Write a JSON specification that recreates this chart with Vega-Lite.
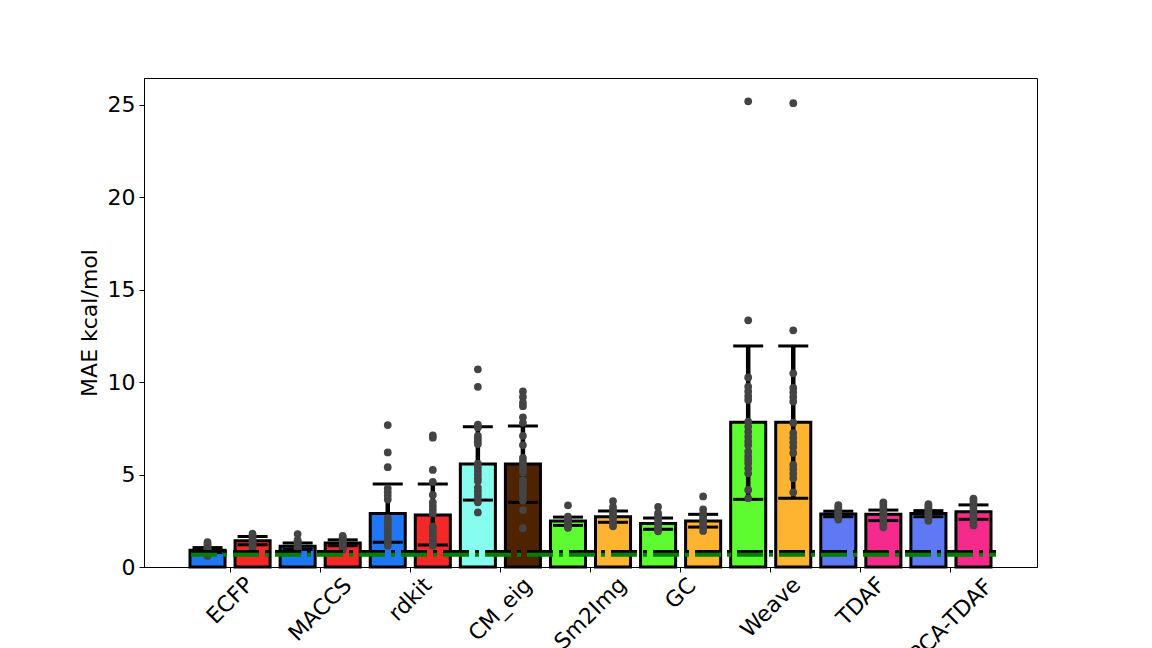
{
  "$schema": "https://vega.github.io/schema/vega-lite/v6.json",
  "width": 893,
  "height": 489,
  "autosize": {"type": "none"},
  "padding": {"left": 144, "top": 78, "right": 115, "bottom": 81},
  "background": "white",
  "config": {
    "font": "DejaVu Sans",
    "view": {"stroke": "black", "strokeWidth": 1},
    "axis": {"domainColor": "black", "tickColor": "black", "labelColor": "black", "titleColor": "black", "grid": false, "labelFont": "DejaVu Sans", "titleFont": "DejaVu Sans"}
  },
  "datasets": {
    "bars": [
      {"model": "ECFP", "variant": "A", "kind": "fp-A", "mae": 0.9, "lo": 0.78, "hi": 1.05},
      {"model": "ECFP", "variant": "B", "kind": "fp-B", "mae": 1.42, "lo": 1.2, "hi": 1.65},
      {"model": "MACCS", "variant": "A", "kind": "fp-A", "mae": 1.12, "lo": 0.95, "hi": 1.3},
      {"model": "MACCS", "variant": "B", "kind": "fp-B", "mae": 1.3, "lo": 1.15, "hi": 1.47},
      {"model": "rdkit", "variant": "A", "kind": "fp-A", "mae": 2.9, "lo": 1.34, "hi": 4.49},
      {"model": "rdkit", "variant": "B", "kind": "fp-B", "mae": 2.81, "lo": 1.19, "hi": 4.49},
      {"model": "CM_eig", "variant": "A", "kind": "cm-A", "mae": 5.57, "lo": 3.62, "hi": 7.59},
      {"model": "CM_eig", "variant": "B", "kind": "cm-B", "mae": 5.57, "lo": 3.5, "hi": 7.63},
      {"model": "Sm2Img", "variant": "A", "kind": "dl-A", "mae": 2.49, "lo": 2.25, "hi": 2.7},
      {"model": "Sm2Img", "variant": "B", "kind": "dl-B", "mae": 2.72, "lo": 2.42, "hi": 3.03},
      {"model": "GC", "variant": "A", "kind": "dl-A", "mae": 2.36, "lo": 2.04, "hi": 2.65},
      {"model": "GC", "variant": "B", "kind": "dl-B", "mae": 2.49, "lo": 2.16, "hi": 2.85},
      {"model": "Weave", "variant": "A", "kind": "dl-A", "mae": 7.83, "lo": 3.66, "hi": 11.96},
      {"model": "Weave", "variant": "B", "kind": "dl-B", "mae": 7.83, "lo": 3.72, "hi": 11.96},
      {"model": "TDAF", "variant": "A", "kind": "tda-A", "mae": 2.87, "lo": 2.72, "hi": 3.02},
      {"model": "TDAF", "variant": "B", "kind": "tda-B", "mae": 2.85, "lo": 2.51, "hi": 3.08},
      {"model": "PCA-TDAF", "variant": "A", "kind": "tda-A", "mae": 2.9, "lo": 2.72, "hi": 3.05},
      {"model": "PCA-TDAF", "variant": "B", "kind": "tda-B", "mae": 2.99, "lo": 2.58, "hi": 3.36}
    ],
    "runs": [
      {"model": "ECFP", "variant": "A", "mae": 1.35}, {"model": "ECFP", "variant": "A", "mae": 1.25}, {"model": "ECFP", "variant": "A", "mae": 1.15}, {"model": "ECFP", "variant": "A", "mae": 1.05}, {"model": "ECFP", "variant": "A", "mae": 1.0}, {"model": "ECFP", "variant": "A", "mae": 0.95}, {"model": "ECFP", "variant": "A", "mae": 0.9}, {"model": "ECFP", "variant": "A", "mae": 0.85}, {"model": "ECFP", "variant": "A", "mae": 0.8}, {"model": "ECFP", "variant": "A", "mae": 0.75}, {"model": "ECFP", "variant": "A", "mae": 0.7}, {"model": "ECFP", "variant": "A", "mae": 0.65}, {"model": "ECFP", "variant": "A", "mae": 0.6},
      {"model": "ECFP", "variant": "B", "mae": 1.8}, {"model": "ECFP", "variant": "B", "mae": 1.72}, {"model": "ECFP", "variant": "B", "mae": 1.65}, {"model": "ECFP", "variant": "B", "mae": 1.58}, {"model": "ECFP", "variant": "B", "mae": 1.5}, {"model": "ECFP", "variant": "B", "mae": 1.44}, {"model": "ECFP", "variant": "B", "mae": 1.38}, {"model": "ECFP", "variant": "B", "mae": 1.32}, {"model": "ECFP", "variant": "B", "mae": 1.25}, {"model": "ECFP", "variant": "B", "mae": 1.18}, {"model": "ECFP", "variant": "B", "mae": 1.1}, {"model": "ECFP", "variant": "B", "mae": 1.05},
      {"model": "MACCS", "variant": "A", "mae": 1.78}, {"model": "MACCS", "variant": "A", "mae": 1.45}, {"model": "MACCS", "variant": "A", "mae": 1.38}, {"model": "MACCS", "variant": "A", "mae": 1.3}, {"model": "MACCS", "variant": "A", "mae": 1.22}, {"model": "MACCS", "variant": "A", "mae": 1.15}, {"model": "MACCS", "variant": "A", "mae": 1.08}, {"model": "MACCS", "variant": "A", "mae": 1.0}, {"model": "MACCS", "variant": "A", "mae": 0.93}, {"model": "MACCS", "variant": "A", "mae": 0.86}, {"model": "MACCS", "variant": "A", "mae": 0.8},
      {"model": "MACCS", "variant": "B", "mae": 1.68}, {"model": "MACCS", "variant": "B", "mae": 1.6}, {"model": "MACCS", "variant": "B", "mae": 1.52}, {"model": "MACCS", "variant": "B", "mae": 1.45}, {"model": "MACCS", "variant": "B", "mae": 1.38}, {"model": "MACCS", "variant": "B", "mae": 1.3}, {"model": "MACCS", "variant": "B", "mae": 1.22}, {"model": "MACCS", "variant": "B", "mae": 1.15}, {"model": "MACCS", "variant": "B", "mae": 1.08}, {"model": "MACCS", "variant": "B", "mae": 1.0}, {"model": "MACCS", "variant": "B", "mae": 0.92},
      {"model": "rdkit", "variant": "A", "mae": 7.68}, {"model": "rdkit", "variant": "A", "mae": 6.2}, {"model": "rdkit", "variant": "A", "mae": 5.4}, {"model": "rdkit", "variant": "A", "mae": 4.25}, {"model": "rdkit", "variant": "A", "mae": 4.05}, {"model": "rdkit", "variant": "A", "mae": 3.85}, {"model": "rdkit", "variant": "A", "mae": 3.65}, {"model": "rdkit", "variant": "A", "mae": 2.65}, {"model": "rdkit", "variant": "A", "mae": 2.5}, {"model": "rdkit", "variant": "A", "mae": 2.35}, {"model": "rdkit", "variant": "A", "mae": 2.2}, {"model": "rdkit", "variant": "A", "mae": 2.05}, {"model": "rdkit", "variant": "A", "mae": 1.9}, {"model": "rdkit", "variant": "A", "mae": 1.75}, {"model": "rdkit", "variant": "A", "mae": 1.6}, {"model": "rdkit", "variant": "A", "mae": 1.45}, {"model": "rdkit", "variant": "A", "mae": 1.3}, {"model": "rdkit", "variant": "A", "mae": 1.15},
      {"model": "rdkit", "variant": "B", "mae": 7.12}, {"model": "rdkit", "variant": "B", "mae": 7.0}, {"model": "rdkit", "variant": "B", "mae": 5.25}, {"model": "rdkit", "variant": "B", "mae": 4.6}, {"model": "rdkit", "variant": "B", "mae": 3.9}, {"model": "rdkit", "variant": "B", "mae": 3.5}, {"model": "rdkit", "variant": "B", "mae": 3.3}, {"model": "rdkit", "variant": "B", "mae": 3.1}, {"model": "rdkit", "variant": "B", "mae": 2.9}, {"model": "rdkit", "variant": "B", "mae": 2.2}, {"model": "rdkit", "variant": "B", "mae": 2.05}, {"model": "rdkit", "variant": "B", "mae": 1.9}, {"model": "rdkit", "variant": "B", "mae": 1.75}, {"model": "rdkit", "variant": "B", "mae": 1.6}, {"model": "rdkit", "variant": "B", "mae": 1.45}, {"model": "rdkit", "variant": "B", "mae": 1.3}, {"model": "rdkit", "variant": "B", "mae": 1.15},
      {"model": "CM_eig", "variant": "A", "mae": 10.7}, {"model": "CM_eig", "variant": "A", "mae": 9.75}, {"model": "CM_eig", "variant": "A", "mae": 7.7}, {"model": "CM_eig", "variant": "A", "mae": 7.55}, {"model": "CM_eig", "variant": "A", "mae": 7.1}, {"model": "CM_eig", "variant": "A", "mae": 6.95}, {"model": "CM_eig", "variant": "A", "mae": 6.8}, {"model": "CM_eig", "variant": "A", "mae": 6.65}, {"model": "CM_eig", "variant": "A", "mae": 5.6}, {"model": "CM_eig", "variant": "A", "mae": 5.4}, {"model": "CM_eig", "variant": "A", "mae": 5.2}, {"model": "CM_eig", "variant": "A", "mae": 5.0}, {"model": "CM_eig", "variant": "A", "mae": 4.8}, {"model": "CM_eig", "variant": "A", "mae": 4.65}, {"model": "CM_eig", "variant": "A", "mae": 4.3}, {"model": "CM_eig", "variant": "A", "mae": 4.1}, {"model": "CM_eig", "variant": "A", "mae": 3.9}, {"model": "CM_eig", "variant": "A", "mae": 3.7}, {"model": "CM_eig", "variant": "A", "mae": 3.5}, {"model": "CM_eig", "variant": "A", "mae": 2.95},
      {"model": "CM_eig", "variant": "B", "mae": 9.5}, {"model": "CM_eig", "variant": "B", "mae": 9.2}, {"model": "CM_eig", "variant": "B", "mae": 8.9}, {"model": "CM_eig", "variant": "B", "mae": 8.7}, {"model": "CM_eig", "variant": "B", "mae": 8.1}, {"model": "CM_eig", "variant": "B", "mae": 7.8}, {"model": "CM_eig", "variant": "B", "mae": 7.1}, {"model": "CM_eig", "variant": "B", "mae": 6.6}, {"model": "CM_eig", "variant": "B", "mae": 5.9}, {"model": "CM_eig", "variant": "B", "mae": 5.7}, {"model": "CM_eig", "variant": "B", "mae": 5.5}, {"model": "CM_eig", "variant": "B", "mae": 5.3}, {"model": "CM_eig", "variant": "B", "mae": 5.1}, {"model": "CM_eig", "variant": "B", "mae": 4.7}, {"model": "CM_eig", "variant": "B", "mae": 4.5}, {"model": "CM_eig", "variant": "B", "mae": 4.3}, {"model": "CM_eig", "variant": "B", "mae": 4.1}, {"model": "CM_eig", "variant": "B", "mae": 3.9}, {"model": "CM_eig", "variant": "B", "mae": 3.6}, {"model": "CM_eig", "variant": "B", "mae": 3.08}, {"model": "CM_eig", "variant": "B", "mae": 2.1},
      {"model": "Sm2Img", "variant": "A", "mae": 3.34}, {"model": "Sm2Img", "variant": "A", "mae": 2.72}, {"model": "Sm2Img", "variant": "A", "mae": 2.62}, {"model": "Sm2Img", "variant": "A", "mae": 2.52}, {"model": "Sm2Img", "variant": "A", "mae": 2.42}, {"model": "Sm2Img", "variant": "A", "mae": 2.32}, {"model": "Sm2Img", "variant": "A", "mae": 2.22}, {"model": "Sm2Img", "variant": "A", "mae": 2.12},
      {"model": "Sm2Img", "variant": "B", "mae": 3.57}, {"model": "Sm2Img", "variant": "B", "mae": 3.26}, {"model": "Sm2Img", "variant": "B", "mae": 3.1}, {"model": "Sm2Img", "variant": "B", "mae": 2.95}, {"model": "Sm2Img", "variant": "B", "mae": 2.8}, {"model": "Sm2Img", "variant": "B", "mae": 2.65}, {"model": "Sm2Img", "variant": "B", "mae": 2.5}, {"model": "Sm2Img", "variant": "B", "mae": 2.35}, {"model": "Sm2Img", "variant": "B", "mae": 2.2},
      {"model": "GC", "variant": "A", "mae": 3.26}, {"model": "GC", "variant": "A", "mae": 2.92}, {"model": "GC", "variant": "A", "mae": 2.8}, {"model": "GC", "variant": "A", "mae": 2.65}, {"model": "GC", "variant": "A", "mae": 2.5}, {"model": "GC", "variant": "A", "mae": 2.35}, {"model": "GC", "variant": "A", "mae": 2.2}, {"model": "GC", "variant": "A", "mae": 2.05}, {"model": "GC", "variant": "A", "mae": 1.93},
      {"model": "GC", "variant": "B", "mae": 3.82}, {"model": "GC", "variant": "B", "mae": 3.12}, {"model": "GC", "variant": "B", "mae": 2.9}, {"model": "GC", "variant": "B", "mae": 2.75}, {"model": "GC", "variant": "B", "mae": 2.6}, {"model": "GC", "variant": "B", "mae": 2.45}, {"model": "GC", "variant": "B", "mae": 2.3}, {"model": "GC", "variant": "B", "mae": 2.15}, {"model": "GC", "variant": "B", "mae": 1.95},
      {"model": "Weave", "variant": "A", "mae": 25.2}, {"model": "Weave", "variant": "A", "mae": 13.35}, {"model": "Weave", "variant": "A", "mae": 10.26}, {"model": "Weave", "variant": "A", "mae": 9.76}, {"model": "Weave", "variant": "A", "mae": 9.5}, {"model": "Weave", "variant": "A", "mae": 9.25}, {"model": "Weave", "variant": "A", "mae": 9.04}, {"model": "Weave", "variant": "A", "mae": 7.86}, {"model": "Weave", "variant": "A", "mae": 7.6}, {"model": "Weave", "variant": "A", "mae": 7.32}, {"model": "Weave", "variant": "A", "mae": 7.05}, {"model": "Weave", "variant": "A", "mae": 6.8}, {"model": "Weave", "variant": "A", "mae": 6.6}, {"model": "Weave", "variant": "A", "mae": 6.24}, {"model": "Weave", "variant": "A", "mae": 6.0}, {"model": "Weave", "variant": "A", "mae": 5.8}, {"model": "Weave", "variant": "A", "mae": 5.61}, {"model": "Weave", "variant": "A", "mae": 5.34}, {"model": "Weave", "variant": "A", "mae": 5.07}, {"model": "Weave", "variant": "A", "mae": 4.17}, {"model": "Weave", "variant": "A", "mae": 3.72},
      {"model": "Weave", "variant": "B", "mae": 25.1}, {"model": "Weave", "variant": "B", "mae": 12.81}, {"model": "Weave", "variant": "B", "mae": 10.48}, {"model": "Weave", "variant": "B", "mae": 9.69}, {"model": "Weave", "variant": "B", "mae": 9.45}, {"model": "Weave", "variant": "B", "mae": 9.2}, {"model": "Weave", "variant": "B", "mae": 8.95}, {"model": "Weave", "variant": "B", "mae": 7.81}, {"model": "Weave", "variant": "B", "mae": 7.25}, {"model": "Weave", "variant": "B", "mae": 7.0}, {"model": "Weave", "variant": "B", "mae": 6.75}, {"model": "Weave", "variant": "B", "mae": 6.5}, {"model": "Weave", "variant": "B", "mae": 6.17}, {"model": "Weave", "variant": "B", "mae": 5.52}, {"model": "Weave", "variant": "B", "mae": 5.3}, {"model": "Weave", "variant": "B", "mae": 5.05}, {"model": "Weave", "variant": "B", "mae": 4.8}, {"model": "Weave", "variant": "B", "mae": 4.04},
      {"model": "TDAF", "variant": "A", "mae": 3.35}, {"model": "TDAF", "variant": "A", "mae": 3.25}, {"model": "TDAF", "variant": "A", "mae": 3.15}, {"model": "TDAF", "variant": "A", "mae": 3.05}, {"model": "TDAF", "variant": "A", "mae": 2.95}, {"model": "TDAF", "variant": "A", "mae": 2.85}, {"model": "TDAF", "variant": "A", "mae": 2.75}, {"model": "TDAF", "variant": "A", "mae": 2.65}, {"model": "TDAF", "variant": "A", "mae": 2.57},
      {"model": "TDAF", "variant": "B", "mae": 3.5}, {"model": "TDAF", "variant": "B", "mae": 3.35}, {"model": "TDAF", "variant": "B", "mae": 3.2}, {"model": "TDAF", "variant": "B", "mae": 3.05}, {"model": "TDAF", "variant": "B", "mae": 2.9}, {"model": "TDAF", "variant": "B", "mae": 2.75}, {"model": "TDAF", "variant": "B", "mae": 2.6}, {"model": "TDAF", "variant": "B", "mae": 2.45}, {"model": "TDAF", "variant": "B", "mae": 2.3}, {"model": "TDAF", "variant": "B", "mae": 2.15},
      {"model": "PCA-TDAF", "variant": "A", "mae": 3.4}, {"model": "PCA-TDAF", "variant": "A", "mae": 3.3}, {"model": "PCA-TDAF", "variant": "A", "mae": 3.2}, {"model": "PCA-TDAF", "variant": "A", "mae": 3.1}, {"model": "PCA-TDAF", "variant": "A", "mae": 3.0}, {"model": "PCA-TDAF", "variant": "A", "mae": 2.9}, {"model": "PCA-TDAF", "variant": "A", "mae": 2.8}, {"model": "PCA-TDAF", "variant": "A", "mae": 2.7}, {"model": "PCA-TDAF", "variant": "A", "mae": 2.6}, {"model": "PCA-TDAF", "variant": "A", "mae": 2.5},
      {"model": "PCA-TDAF", "variant": "B", "mae": 3.7}, {"model": "PCA-TDAF", "variant": "B", "mae": 3.6}, {"model": "PCA-TDAF", "variant": "B", "mae": 3.45}, {"model": "PCA-TDAF", "variant": "B", "mae": 3.3}, {"model": "PCA-TDAF", "variant": "B", "mae": 3.15}, {"model": "PCA-TDAF", "variant": "B", "mae": 3.0}, {"model": "PCA-TDAF", "variant": "B", "mae": 2.85}, {"model": "PCA-TDAF", "variant": "B", "mae": 2.7}, {"model": "PCA-TDAF", "variant": "B", "mae": 2.55}, {"model": "PCA-TDAF", "variant": "B", "mae": 2.4}, {"model": "PCA-TDAF", "variant": "B", "mae": 2.25}
    ],
    "refs": [
      {"name": "reference", "mae": 0.81},
      {"name": "best", "mae": 0.66}
    ]
  },
  "encoding": {
    "x": {
      "field": "model",
      "type": "nominal",
      "sort": ["ECFP", "MACCS", "rdkit", "CM_eig", "Sm2Img", "GC", "Weave", "TDAF", "PCA-TDAF"],
      "scale": {"paddingInner": 0, "paddingOuter": 0.455},
      "axis": {
        "title": null,
        "labelAngle": -45,
        "labelAlign": "center",
        "labelBaseline": "middle",
        "labelFontSize": 22,
        "tickSize": 5,
        "labelPadding": {"expr": "datum.value == 'ECFP' ? 28 : datum.value == 'MACCS' ? 37 : datum.value == 'rdkit' ? 27 : datum.value == 'CM_eig' ? 37 : datum.value == 'Sm2Img' ? 41 : datum.value == 'GC' ? 21 : datum.value == 'Weave' ? 35 : datum.value == 'TDAF' ? 29 : 48"}
      }
    },
    "xOffset": {
      "field": "variant",
      "type": "nominal",
      "sort": ["A", "B"],
      "scale": {"paddingInner": 0.222, "paddingOuter": 0.111}
    }
  },
  "layer": [
    {
      "data": {"name": "bars"},
      "mark": {"type": "bar", "stroke": "black", "strokeWidth": 3},
      "encoding": {
        "y": {
          "field": "mae",
          "type": "quantitative",
          "scale": {"domain": [0, 26.46], "nice": false},
          "axis": {"values": [0, 5, 10, 15, 20, 25], "labelFontSize": 22, "tickSize": 5, "labelPadding": 4, "title": "MAE kcal/mol", "titleFontSize": 22, "titleFontWeight": "normal", "titlePadding": 6}
        },
        "color": {
          "field": "kind",
          "type": "nominal",
          "legend": null,
          "scale": {
            "domain": ["fp-A", "fp-B", "cm-A", "cm-B", "dl-A", "dl-B", "tda-A", "tda-B"],
            "range": ["#1f77f4", "#f52828", "#87fdf0", "#4f2300", "#5dfc30", "#ffb431", "#5f79f5", "#f52a8c"]
          }
        }
      }
    },
    {
      "data": {"name": "bars"},
      "mark": {"type": "rule", "color": "black", "strokeWidth": 4.5},
      "encoding": {
        "y": {"field": "lo", "type": "quantitative"},
        "y2": {"field": "hi"}
      }
    },
    {
      "data": {"name": "bars"},
      "mark": {"type": "tick", "color": "black", "size": 30, "thickness": 3, "opacity": 1},
      "encoding": {"y": {"field": "lo", "type": "quantitative"}}
    },
    {
      "data": {"name": "bars"},
      "mark": {"type": "tick", "color": "black", "size": 30, "thickness": 3, "opacity": 1},
      "encoding": {"y": {"field": "hi", "type": "quantitative"}}
    },
    {
      "data": {"name": "runs"},
      "mark": {"type": "circle", "color": "#444444", "size": 60, "opacity": 1},
      "encoding": {"y": {"field": "mae", "type": "quantitative"}}
    },
    {
      "data": {"name": "refs"},
      "transform": [{"filter": "datum.name == 'reference'"}],
      "mark": {"type": "rule", "color": "black", "strokeWidth": 4, "strokeDash": [26, 6, 4, 6], "strokeDashOffset": 36},
      "encoding": {
        "x": {"datum": "ECFP", "bandPosition": 0},
        "x2": {"datum": "PCA-TDAF", "bandPosition": 1},
        "xOffset": null,
        "y": {"field": "mae", "type": "quantitative"}
      }
    },
    {
      "data": {"name": "refs"},
      "transform": [{"filter": "datum.name == 'best'"}],
      "mark": {"type": "rule", "color": "#008000", "strokeWidth": 4, "strokeDash": [26, 6, 4, 6], "strokeDashOffset": 36},
      "encoding": {
        "x": {"datum": "ECFP", "bandPosition": 0},
        "x2": {"datum": "PCA-TDAF", "bandPosition": 1},
        "xOffset": null,
        "y": {"field": "mae", "type": "quantitative"}
      }
    }
  ]
}
